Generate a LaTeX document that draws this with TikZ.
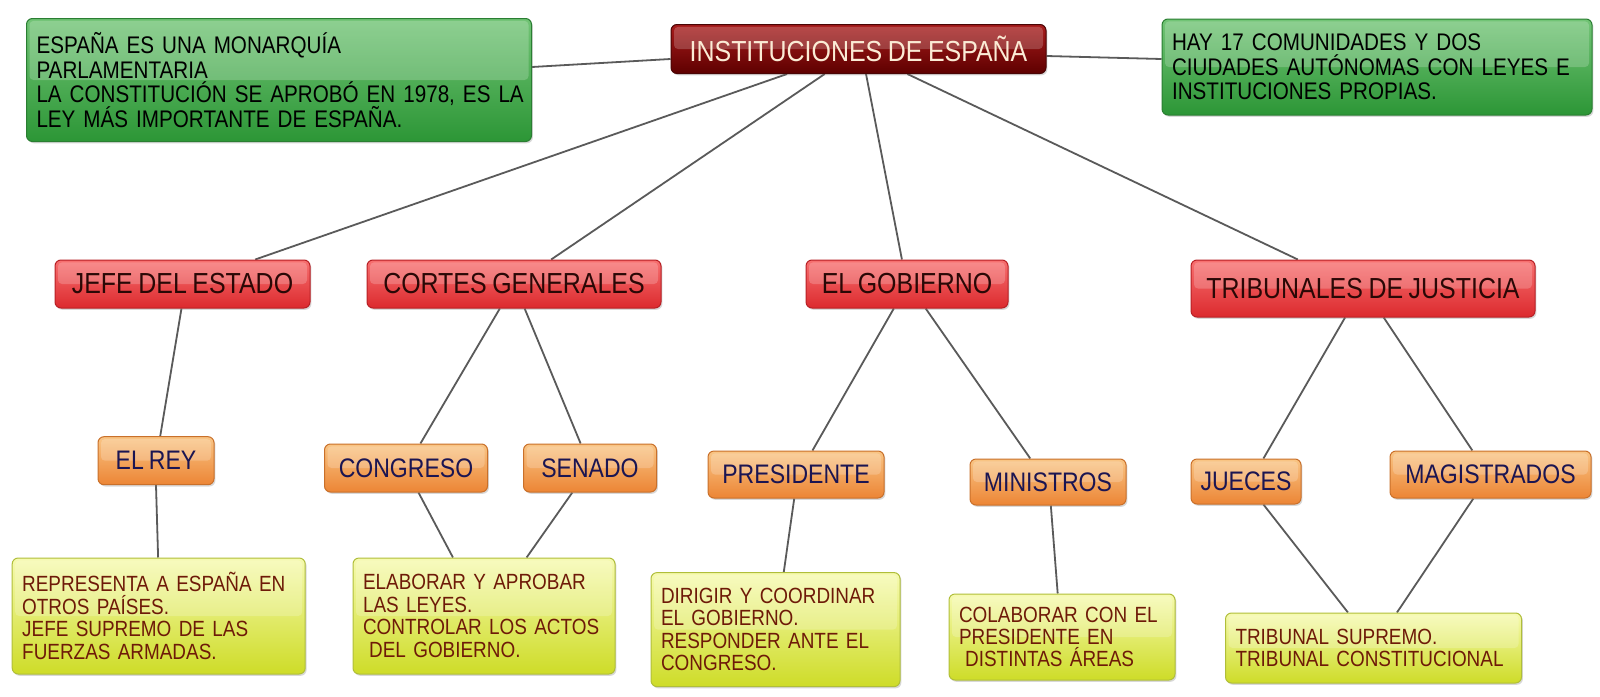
\documentclass[tikz,border=0pt]{standalone}
\usepackage{fontspec}
\setmainfont[FakeStretch=0.86,WordSpace=0.8]{Liberation Sans}
\usetikzlibrary{calc,shadows,backgrounds}
\definecolor{titTop}{HTML}{A81C1C}
\definecolor{titBot}{HTML}{5E0000}
\definecolor{titDraw}{HTML}{4A0505}
\definecolor{titText}{HTML}{FBEBD5}
\definecolor{redTop}{HTML}{F77070}
\definecolor{redBot}{HTML}{DC2A2E}
\definecolor{redDraw}{HTML}{B82025}
\definecolor{redText}{HTML}{2A0806}
\definecolor{orTop}{HTML}{F9C585}
\definecolor{orBot}{HTML}{EC8535}
\definecolor{orDraw}{HTML}{C9702A}
\definecolor{orText}{HTML}{1B1552}
\definecolor{yeTop}{HTML}{F6FAB0}
\definecolor{yeBot}{HTML}{CEDC28}
\definecolor{yeDraw}{HTML}{B0BE3A}
\definecolor{yeText}{HTML}{6E1A08}
\definecolor{grTop}{HTML}{72C476}
\definecolor{grBot}{HTML}{2C9636}
\definecolor{grDraw}{HTML}{2A7E32}
\definecolor{lineGray}{HTML}{5A5A5A}
\newcommand\linkbox[4]{\draw[conn] ($(#1.south west)!#2!(#1.south east)$) -- ($(#3.north west)!#4!(#3.north east)$);}
\tikzset{
  boxbase/.style={rounded corners=3pt, draw, line width=0.5pt, inner ysep=0pt,
    drop shadow={opacity=0.3,shadow xshift=0.7pt,shadow yshift=-0.9pt},
    path picture={\fill[white,opacity=0.2,rounded corners=2pt]
      ([xshift=1.5pt,yshift=-1.2pt]path picture bounding box.north west) rectangle
      ([xshift=-1.5pt]path picture bounding box.east);}},
  titlebox/.style={boxbase, top color=titTop, bottom color=titBot, draw=titDraw,
    text=titText, font=\fontsize{14.5}{16}\selectfont},
  redbox/.style={boxbase, top color=redTop, bottom color=redBot, draw=redDraw,
    text=redText, font=\fontsize{14.5}{16}\selectfont},
  orbox/.style={boxbase, top color=orTop, bottom color=orBot, draw=orDraw,
    text=orText, font=\fontsize{13.4}{15}\selectfont},
  greenbox/.style={boxbase, top color=grTop, bottom color=grBot, draw=grDraw,
    text=black, align=left, inner xsep=5pt, font=\fontsize{12}{12.3}\selectfont},
  yebox/.style={boxbase, top color=yeTop, bottom color=yeBot, draw=yeDraw,
    text=yeText, align=left, inner xsep=5pt, font=\fontsize{11}{11.2}\selectfont},
  conn/.style={draw=lineGray, line width=0.9pt},
}
\begin{document}
\begin{tikzpicture}[x=0.5pt,y=-0.5pt]
\useasboundingbox (0,0) rectangle (1600,696);

\node[titlebox, minimum width=187.5pt, minimum height=24.5pt] (title) at (858.5,49) {INSTITUCIONES DE ESPAÑA};

\node[greenbox, minimum width=252.5pt, text width=242.5pt, minimum height=61.5pt] (lgreen) at (279,80)
  {ESPAÑA ES UNA MONARQUÍA\\PARLAMENTARIA\\\mbox{LA CONSTITUCIÓN SE APROBÓ EN 1978, ES LA}\\LEY MÁS IMPORTANTE DE ESPAÑA.};
\node[greenbox, minimum width=215pt, text width=205pt, minimum height=48pt] (rgreen) at (1377,67)
  {HAY 17 COMUNIDADES Y DOS\\\mbox{CIUDADES AUTÓNOMAS CON LEYES E}\\INSTITUCIONES PROPIAS.};

\node[redbox, minimum width=127.5pt, minimum height=24pt] (jefe) at (182.5,284) {JEFE DEL ESTADO};
\node[redbox, minimum width=147pt, minimum height=24pt] (cortes) at (514,284) {CORTES GENERALES};
\node[redbox, minimum width=101pt, minimum height=24pt] (gobierno) at (907,284) {EL GOBIERNO};
\node[redbox, minimum width=172pt, minimum height=28.5pt] (tribunales) at (1363,288.5) {TRIBUNALES DE JUSTICIA};

\node[orbox, minimum width=58pt, minimum height=24pt] (rey) at (156,460.7) {EL REY};
\node[orbox, minimum width=81.5pt, minimum height=24pt] (congreso) at (406,468) {CONGRESO};
\node[orbox, minimum width=66.5pt, minimum height=24pt] (senado) at (590,468) {SENADO};
\node[orbox, minimum width=88pt, minimum height=23.5pt] (presidente) at (796,474.5) {PRESIDENTE};
\node[orbox, minimum width=78pt, minimum height=23pt] (ministros) at (1048,482) {MINISTROS};
\node[orbox, minimum width=55pt, minimum height=22.5pt] (jueces) at (1246,481.5) {JUECES};
\node[orbox, minimum width=100.5pt, minimum height=23.5pt] (magistrados) at (1490.5,474.5) {MAGISTRADOS};

\node[yebox, minimum width=146.5pt, text width=136.5pt, minimum height=58pt] (y1) at (158.7,616)
  {\mbox{REPRESENTA A ESPAÑA EN}\\OTROS PAÍSES.\\\mbox{JEFE SUPREMO DE LAS}\\FUERZAS ARMADAS.};
\node[yebox, minimum width=131pt, text width=121pt, minimum height=58pt] (y2) at (484,616)
  {\mbox{ELABORAR Y APROBAR}\\LAS LEYES.\\\mbox{CONTROLAR LOS ACTOS}\\\hspace*{0.28em}DEL GOBIERNO.};
\node[yebox, minimum width=124.5pt, text width=114.5pt, minimum height=57pt] (y3) at (775.5,629.6)
  {\mbox{DIRIGIR Y COORDINAR}\\EL GOBIERNO.\\\mbox{RESPONDER ANTE EL}\\CONGRESO.};
\node[yebox, minimum width=113pt, text width=103pt, minimum height=43pt] (y4) at (1062,637)
  {\mbox{COLABORAR CON EL}\\PRESIDENTE EN\\\hspace*{0.28em}DISTINTAS ÁREAS};
\node[yebox, minimum width=148pt, text width=138pt, minimum height=35pt] (y5) at (1373.5,648)
  {TRIBUNAL SUPREMO.\\\mbox{TRIBUNAL CONSTITUCIONAL}};

\begin{scope}[on background layer]
\fill[white] (0,0) rectangle (1600,696);
\draw[conn] ($(title.west)+(0,10)$) -- ($(lgreen.east)+(0,-13)$);
\draw[conn] ($(title.east)+(0,7)$) -- ($(rgreen.west)+(0,-8)$);
\linkbox{title}{0.31}{jefe}{0.784}
\linkbox{title}{0.41}{cortes}{0.626}
\linkbox{title}{0.52}{gobierno}{0.475}
\linkbox{title}{0.63}{tribunales}{0.311}
\linkbox{jefe}{0.496}{rey}{0.536}
\linkbox{cortes}{0.452}{congreso}{0.588}
\linkbox{cortes}{0.536}{senado}{0.43}
\linkbox{gobierno}{0.435}{presidente}{0.593}
\linkbox{gobierno}{0.592}{ministros}{0.387}
\linkbox{tribunales}{0.448}{jueces}{0.657}
\linkbox{tribunales}{0.56}{magistrados}{0.41}
\linkbox{rey}{0.5}{y1}{0.498}
\linkbox{congreso}{0.576}{y2}{0.382}
\linkbox{senado}{0.368}{y2}{0.662}
\linkbox{presidente}{0.49}{y3}{0.533}
\linkbox{ministros}{0.518}{y4}{0.481}
\linkbox{jueces}{0.657}{y5}{0.414}
\linkbox{magistrados}{0.415}{y5}{0.579}
\end{scope}
\end{tikzpicture}
\end{document}
